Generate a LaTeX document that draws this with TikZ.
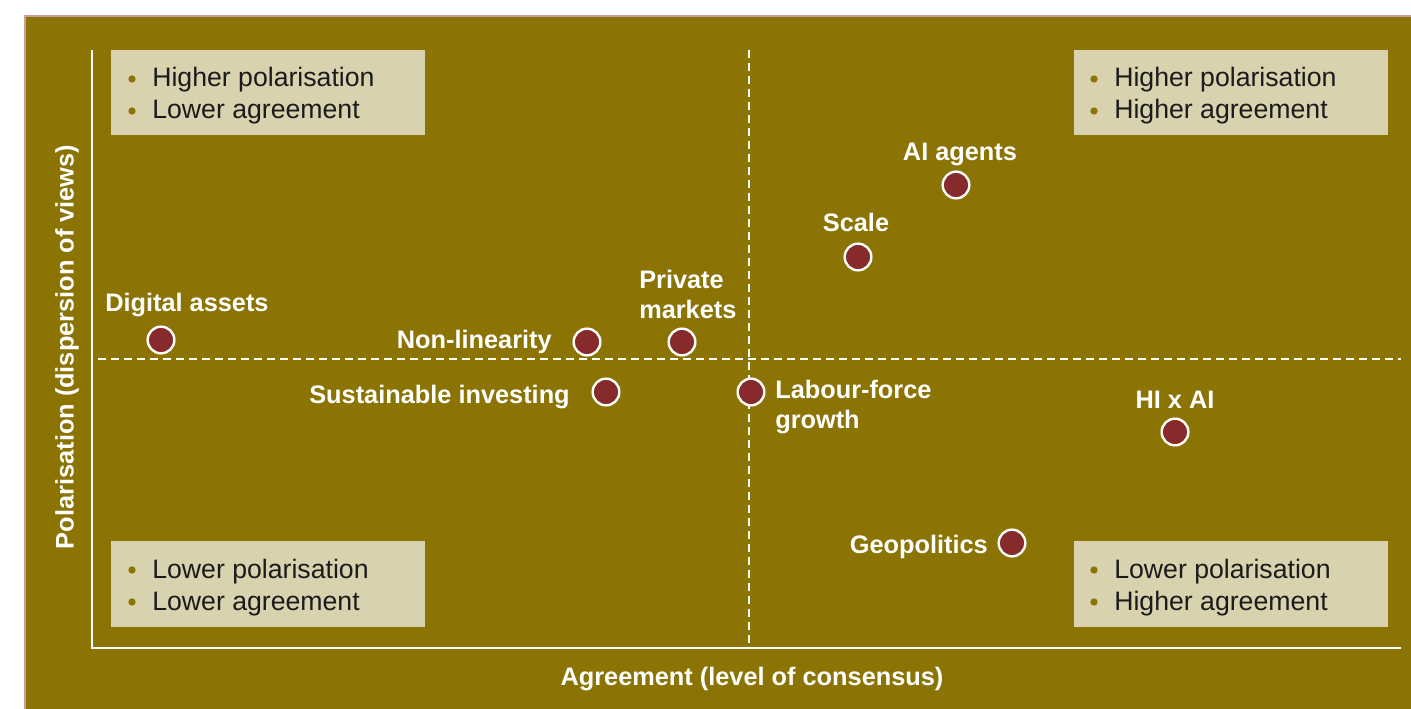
\documentclass[tikz,border=0pt]{standalone}
\usepackage{fontspec}
\setmainfont{Liberation Sans}
\definecolor{olive}{HTML}{8B7304}
\definecolor{pinkedge}{HTML}{C9A0A0}
\definecolor{boxfill}{HTML}{D8D2AF}
\definecolor{dotred}{HTML}{862A2B}
\definecolor{ink}{HTML}{1B1B1B}
\begin{document}
\begin{tikzpicture}[x=0.75pt,y=-0.75pt,
  quadbox/.style={fill=boxfill,draw=none},
  boxtext/.style={anchor=base west,inner sep=0pt,text=ink,font=\fontsize{20}{24}\selectfont},
  bulletdot/.style={circle,fill=olive,inner sep=0pt,minimum size=5.5pt},
  pointdot/.style={circle,fill=dotred,draw=white,line width=1.8pt,inner sep=0pt,minimum size=20pt},
  lbl/.style={inner sep=0pt,text=white,font=\fontsize{19}{22}\bfseries\selectfont},
  axisline/.style={white,line width=1.9pt},
  midline/.style={white,line width=1.5pt,dash pattern=on 6pt off 3.75pt}]
\useasboundingbox (0,0) rectangle (1411,709);
\clip (0,0) rectangle (1411,709);
\fill[white] (0,0) rectangle (1411,709);
\draw[fill=olive,draw=pinkedge,line width=1.6pt] (25,16) rectangle (1430,730);
% axes
\coordinate (ytop) at (92,50);
\coordinate (origin) at (92,648);
\coordinate (xend) at (1401,648);
\draw[axisline] (ytop) -- (origin) -- (xend);
% dashed mid lines
\coordinate (vtop) at (749,50);
\coordinate (vbot) at (749,648);
\coordinate (hleft) at (98,359);
\coordinate (hright) at (1401,359);
\draw[midline] (vtop) -- (vbot);
\draw[midline] (hleft) -- (hright);
% quadrant boxes
\fill[quadbox] (111,50) rectangle (425,135);
\fill[quadbox] (1074,50) rectangle (1388,135);
\fill[quadbox] (111,541) rectangle (425,627);
\fill[quadbox] (1074,541) rectangle (1388,627);
% top-left
\node[bulletdot] (b1) at (132,79) {};
\node[boxtext] (t1) at (152,87) {Higher polarisation};
\node[bulletdot] (b2) at (132,111) {};
\node[boxtext] (t2) at (152,119) {Lower agreement};
% top-right
\node[bulletdot] (b3) at (1094,79) {};
\node[boxtext] (t3) at (1114,87) {Higher polarisation};
\node[bulletdot] (b4) at (1094,111) {};
\node[boxtext] (t4) at (1114,119) {Higher agreement};
% bottom-left
\node[bulletdot] (b5) at (132,570) {};
\node[boxtext] (t5) at (152,578) {Lower polarisation};
\node[bulletdot] (b6) at (132,602) {};
\node[boxtext] (t6) at (152,610) {Lower agreement};
% bottom-right
\node[bulletdot] (b7) at (1094,570) {};
\node[boxtext] (t7) at (1114,578) {Lower polarisation};
\node[bulletdot] (b8) at (1094,602) {};
\node[boxtext] (t8) at (1114,610) {Higher agreement};
% points
\node[pointdot] (pDA) at (161,340) {};
\node[pointdot] (pNL) at (587,342) {};
\node[pointdot] (pPM) at (682,342) {};
\node[pointdot] (pSI) at (606,392) {};
\node[pointdot] (pLF) at (751,392) {};
\node[pointdot] (pSC) at (858,257) {};
\node[pointdot] (pAI) at (956,185) {};
\node[pointdot] (pHI) at (1175,432) {};
\node[pointdot] (pGE) at (1012,543) {};
% labels
\node[lbl,anchor=base west] (lDA) at (105,312) {Digital assets};
\node[lbl,anchor=base east] (lNL) at (552,349) {Non-linearity};
\node[lbl,anchor=base west] (lPM1) at (639,289) {Private};
\node[lbl,anchor=base west] (lPM2) at (639,319) {markets};
\node[lbl,anchor=base east] (lSI) at (570,404) {Sustainable investing};
\node[lbl,anchor=base west] (lLF1) at (775,399) {Labour-force};
\node[lbl,anchor=base west] (lLF2) at (775,429) {growth};
\node[lbl,anchor=base] (lSC) at (856,232) {Scale};
\node[lbl,anchor=base] (lAI) at (960,161) {AI agents};
\node[lbl,anchor=base] (lHI) at (1175,409) {HI x AI};
\node[lbl,anchor=base east] (lGE) at (988,553) {Geopolitics};
% axis titles
\node[lbl,anchor=base] (xtitle) at (752,685) {Agreement (level of consensus)};
\node[lbl,rotate=90] (ytitle) at (67,347) {Polarisation (dispersion of views)};
\end{tikzpicture}
\end{document}
